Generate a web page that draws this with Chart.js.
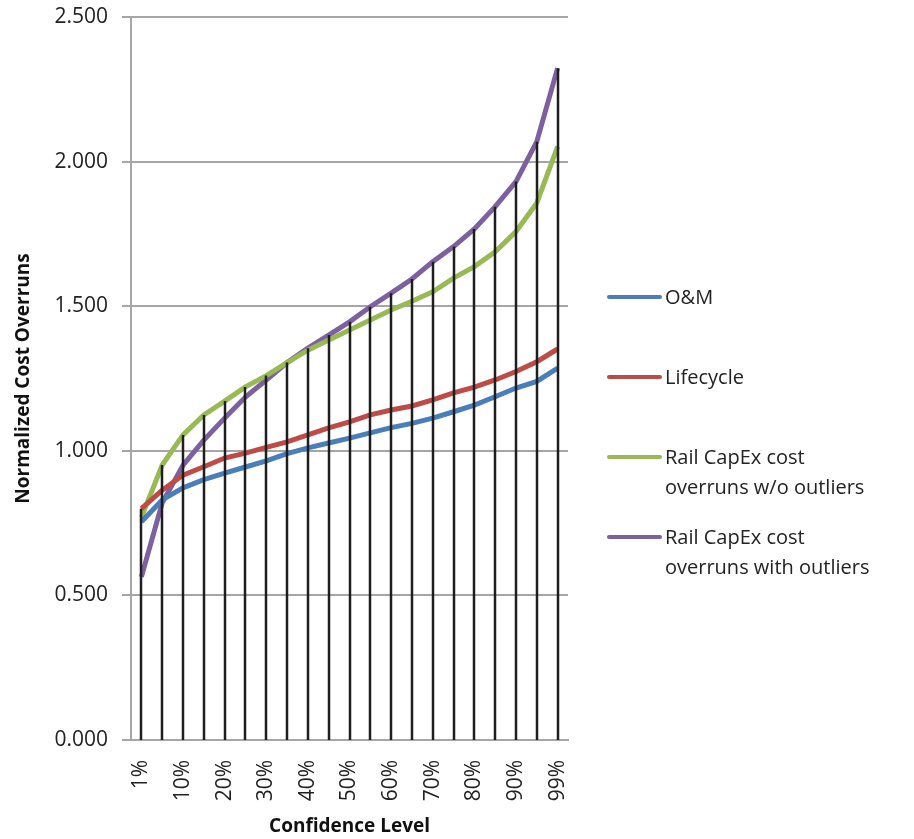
<!DOCTYPE html>
<html lang="en">
<head>
  <meta charset="UTF-8">
  <title>Normalized Cost Overruns</title>
  <script src="https://cdn.jsdelivr.net/npm/chart.js"></script>
  <style>
    html, body { margin: 0; padding: 0; background: #fff; }
    #wrap { position: relative; width: 914px; height: 839px; }
    #legend { position: absolute; left: 607px; top: 0; font-family: "Open Sans", sans-serif; font-size: 20px; color: #222; }
    .item { position: absolute; left: 0; white-space: nowrap; }
    .swatch { position: absolute; left: 0; width: 55px; height: 4px; border-radius: 2px; }
    .label { position: absolute; left: 58px; line-height: 30px; }
  </style>
</head>
<body>
  <div id="wrap">
    <canvas id="chart" width="914" height="839"></canvas>
    <div id="legend"></div>
  </div>

  <script>
    var categories = ['1%', '5%', '10%', '15%', '20%', '25%', '30%', '35%', '40%', '45%', '50%',
                      '55%', '60%', '65%', '70%', '75%', '80%', '85%', '90%', '95%', '99%'];

    var omValues = [0.755, 0.830, 0.872, 0.900, 0.923, 0.944, 0.965, 0.990, 1.010, 1.027, 1.044,
                    1.062, 1.080, 1.095, 1.113, 1.135, 1.158, 1.187, 1.217, 1.240, 1.286];
    var lifecycleValues = [0.800, 0.864, 0.916, 0.945, 0.975, 0.992, 1.012, 1.031, 1.055, 1.079, 1.100,
                           1.124, 1.141, 1.155, 1.176, 1.200, 1.220, 1.245, 1.274, 1.308, 1.352];
    var capexNoOutliers = [0.770, 0.951, 1.055, 1.124, 1.172, 1.221, 1.260, 1.305, 1.348, 1.383, 1.418,
                           1.452, 1.487, 1.517, 1.550, 1.597, 1.637, 1.688, 1.758, 1.857, 2.052];
    var capexWithOutliers = [0.564, 0.820, 0.950, 1.037, 1.113, 1.186, 1.245, 1.305, 1.355, 1.400, 1.446,
                             1.498, 1.545, 1.594, 1.654, 1.706, 1.767, 1.844, 1.931, 2.069, 2.323];

    var seriesNames = ['O&M', 'Lifecycle', 'Rail CapEx cost\noverruns w/o outliers', 'Rail CapEx cost\noverruns with outliers'];
    var seriesColors = ['#4a7ebb', '#be4b48', '#98b954', '#7d60a0'];

    var font = '"Open Sans", sans-serif';

    // vertical drop lines from the highest point of each category down to the axis
    var dropLines = {
      id: 'dropLines',
      afterDatasetsDraw: function(chart) {
        var ctx = chart.ctx;
        var xs = chart.scales.x, ys = chart.scales.y;
        ctx.save();
        ctx.strokeStyle = '#1e1e1e';
        ctx.lineWidth = 2.5;
        for (var i = 0; i < categories.length; i++) {
          var top = Math.max.apply(null, chart.data.datasets.map(function(d) { return d.data[i]; }));
          var px = Math.round(xs.getPixelForValue(i));
          ctx.beginPath();
          ctx.moveTo(px, ys.getPixelForValue(top));
          ctx.lineTo(px, ys.getPixelForValue(0));
          ctx.stroke();
        }
        ctx.restore();
      }
    };

    var data = [omValues, lifecycleValues, capexNoOutliers, capexWithOutliers];
    var datasets = data.map(function(vals, k) {
      return {
        label: seriesNames[k],
        data: vals,
        borderColor: seriesColors[k],
        backgroundColor: seriesColors[k],
        borderWidth: 5,
        pointRadius: 0,
        tension: 0,
        fill: false
      };
    });

    new Chart(document.getElementById('chart'), {
      type: 'line',
      data: { labels: categories, datasets: datasets },
      plugins: [dropLines],
      options: {
        responsive: false,
        animation: false,
        layout: { padding: { top: 17, right: 346, bottom: 0, left: 0 } },
        plugins: { legend: { display: false }, tooltip: { enabled: false } },
        scales: {
          x: {
            offset: true,
            grid: { display: false },
            border: { display: true, color: '#a6a6a6', width: 2 },
            afterFit: function(scale) { scale.height = 99; },
            ticks: {
              autoSkip: false,
              minRotation: 90,
              maxRotation: 90,
              padding: 12,
              color: '#222',
              font: { family: font, size: 21 },
              callback: function(v, i) { return i % 2 === 0 ? categories[i] : ''; }
            },
            title: {
              display: true,
              text: 'Confidence Level',
              color: '#111',
              font: { family: font, size: 19, weight: 'bold' },
              padding: { top: 0, bottom: 1 }
            }
          },
          y: {
            min: 0,
            max: 2.5,
            afterFit: function(scale) {
              scale.width = 131;
              scale.paddingTop = 0;
              scale.paddingBottom = 0;
            },
            grid: { color: '#a6a6a6', lineWidth: 2, tickLength: 9, drawTicks: true },
            border: { display: true, color: '#a6a6a6', width: 2 },
            ticks: {
              stepSize: 0.5,
              padding: 14,
              color: '#222',
              font: { family: font, size: 21 },
              callback: function(v) { return v.toFixed(3); }
            },
            title: {
              display: true,
              text: 'Normalized Cost Overruns',
              color: '#111',
              font: { family: font, size: 19, weight: 'bold' },
              padding: { top: 12, bottom: 0 }
            }
          }
        }
      }
    });

    // legend on the right, line samples with wrapped labels
    var legendTops = [297, 377, 457, 537];
    var legend = document.getElementById('legend');
    seriesNames.forEach(function(name, k) {
      var item = document.createElement('div');
      item.className = 'item';
      item.style.top = legendTops[k] + 'px';
      var sw = document.createElement('div');
      sw.className = 'swatch';
      sw.style.background = seriesColors[k];
      sw.style.top = '-2px';
      var lab = document.createElement('div');
      lab.className = 'label';
      lab.style.top = '-15px';
      lab.innerHTML = name.replace(/&/g, '&amp;').replace('\n', '<br>');
      item.appendChild(sw);
      item.appendChild(lab);
      legend.appendChild(item);
    });
  </script>
</body>
</html>
